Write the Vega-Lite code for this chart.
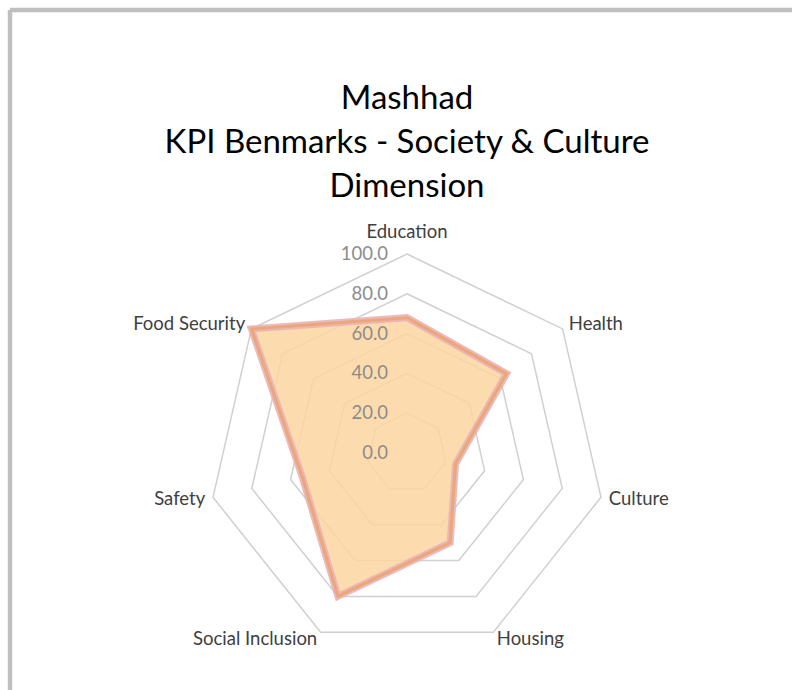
{
  "$schema": "https://vega.github.io/schema/vega-lite/v6.json",
  "width": 782,
  "height": 680,
  "autosize": {"type": "none"},
  "padding": {"left": 10, "top": 10, "right": 0, "bottom": 0},
  "background": "white",
  "config": {"view": {"stroke": null}, "font": "Lato"},
  "title": {
    "text": ["Mashhad", "KPI Benmarks - Society & Culture", "Dimension"],
    "font": "Lato",
    "fontSize": 33,
    "fontWeight": "normal",
    "color": "#000000",
    "lineHeight": 44,
    "anchor": "middle",
    "baseline": "top",
    "offset": -196,
    "dx": 6
  },
  "datasets": {
    "kpi": [
      {"dimension": "Education", "order": 0, "score": 68},
      {"dimension": "Health", "order": 1, "score": 64},
      {"dimension": "Culture", "order": 2, "score": 25},
      {"dimension": "Housing", "order": 3, "score": 50},
      {"dimension": "Social Inclusion", "order": 4, "score": 80},
      {"dimension": "Safety", "order": 5, "score": 54},
      {"dimension": "Food Security", "order": 6, "score": 100}
    ],
    "levels": [
      {"level": 0, "spokes": [0, 1, 2, 3, 4, 5, 6]},
      {"level": 20, "spokes": [0, 1, 2, 3, 4, 5, 6]},
      {"level": 40, "spokes": [0, 1, 2, 3, 4, 5, 6]},
      {"level": 60, "spokes": [0, 1, 2, 3, 4, 5, 6]},
      {"level": 80, "spokes": [0, 1, 2, 3, 4, 5, 6]},
      {"level": 100, "spokes": [0, 1, 2, 3, 4, 5, 6]}
    ],
    "frame": [{"side": "left"}, {"side": "top"}]
  },
  "layer": [
    {
      "data": {"name": "frame"},
      "transform": [{"filter": "datum.side == 'left'"}],
      "mark": {"type": "rule", "stroke": "#bfbfbf", "strokeWidth": 4.5},
      "encoding": {
        "x": {"datum": -199.5, "type": "quantitative", "scale": {"domain": [-199.5, 193.47], "nice": false, "zero": false}, "axis": null}
      }
    },
    {
      "data": {"name": "frame"},
      "transform": [{"filter": "datum.side == 'top'"}],
      "mark": {"type": "rule", "stroke": "#bfbfbf", "strokeWidth": 4.5},
      "encoding": {
        "y": {"datum": 222.61, "type": "quantitative", "scale": {"domain": [-119.1, 222.61], "nice": false, "zero": false}, "axis": null}
      }
    },
    {
      "data": {"name": "levels"},
      "transform": [
        {"filter": "datum.level > 0"},
        {"flatten": ["spokes"], "as": ["spoke"]},
        {"calculate": "datum.spoke * 2 * PI / 7", "as": "theta"},
        {"calculate": "datum.level * sin(datum.theta)", "as": "px"},
        {"calculate": "datum.level * cos(datum.theta)", "as": "py"}
      ],
      "mark": {"type": "line", "interpolate": "linear-closed", "stroke": "#d0d0d0", "strokeWidth": 1.5},
      "encoding": {
        "x": {"field": "px", "type": "quantitative", "scale": {"domain": [-199.5, 193.47], "nice": false, "zero": false}, "axis": null},
        "y": {"field": "py", "type": "quantitative", "scale": {"domain": [-119.1, 222.61], "nice": false, "zero": false}, "axis": null},
        "detail": {"field": "level", "type": "nominal"},
        "order": {"field": "spoke", "type": "quantitative"}
      }
    },
    {
      "data": {"name": "kpi"},
      "transform": [
        {"calculate": "datum.order * 2 * PI / 7", "as": "theta"},
        {"calculate": "datum.score * sin(datum.theta)", "as": "px"},
        {"calculate": "datum.score * cos(datum.theta)", "as": "py"}
      ],
      "mark": {"type": "line", "interpolate": "linear-closed", "fill": "#fcd6a0", "fillOpacity": 0.85, "stroke": "#e8b3b5", "strokeWidth": 7, "strokeOpacity": 0.9, "strokeJoin": "miter"},
      "encoding": {
        "x": {"field": "px", "type": "quantitative", "scale": {"domain": [-199.5, 193.47], "nice": false, "zero": false}, "axis": null},
        "y": {"field": "py", "type": "quantitative", "scale": {"domain": [-119.1, 222.61], "nice": false, "zero": false}, "axis": null},
        "order": {"field": "order", "type": "quantitative"}
      }
    },
    {
      "data": {"name": "kpi"},
      "transform": [
        {"calculate": "datum.order * 2 * PI / 7", "as": "theta"},
        {"calculate": "datum.score * sin(datum.theta)", "as": "px"},
        {"calculate": "datum.score * cos(datum.theta)", "as": "py"}
      ],
      "mark": {"type": "line", "interpolate": "linear-closed", "stroke": "#eda679", "strokeWidth": 3, "strokeJoin": "miter"},
      "encoding": {
        "x": {"field": "px", "type": "quantitative", "scale": {"domain": [-199.5, 193.47], "nice": false, "zero": false}, "axis": null},
        "y": {"field": "py", "type": "quantitative", "scale": {"domain": [-119.1, 222.61], "nice": false, "zero": false}, "axis": null},
        "order": {"field": "order", "type": "quantitative"}
      }
    },
    {
      "data": {"name": "levels"},
      "mark": {"type": "text", "align": "right", "baseline": "middle", "dx": -19, "fontSize": 18.5, "font": "Lato", "color": "#8c8c8c"},
      "encoding": {
        "x": {"datum": 0, "type": "quantitative", "scale": {"domain": [-199.5, 193.47], "nice": false, "zero": false}, "axis": null},
        "y": {"field": "level", "type": "quantitative", "scale": {"domain": [-119.1, 222.61], "nice": false, "zero": false}, "axis": null},
        "text": {"field": "level", "type": "quantitative", "format": ".1f"}
      }
    },
    {
      "data": {"name": "kpi"},
      "transform": [
        {"filter": "datum.order == 0"},
        {"calculate": "datum.order * 2 * PI / 7", "as": "theta"},
        {"calculate": "104 * sin(datum.theta)", "as": "lx"},
        {"calculate": "104 * cos(datum.theta)", "as": "ly"}
      ],
      "mark": {"type": "text", "align": "center", "baseline": "middle", "dy": -14, "fontSize": 18.5, "font": "Lato", "color": "#404040"},
      "encoding": {
        "x": {"field": "lx", "type": "quantitative", "scale": {"domain": [-199.5, 193.47], "nice": false, "zero": false}, "axis": null},
        "y": {"field": "ly", "type": "quantitative", "scale": {"domain": [-119.1, 222.61], "nice": false, "zero": false}, "axis": null},
        "text": {"field": "dimension", "type": "nominal"}
      }
    },
    {
      "data": {"name": "kpi"},
      "transform": [
        {"filter": "datum.order >= 1 && datum.order <= 3"},
        {"calculate": "datum.order * 2 * PI / 7", "as": "theta"},
        {"calculate": "104 * sin(datum.theta)", "as": "lx"},
        {"calculate": "104 * cos(datum.theta)", "as": "ly"}
      ],
      "mark": {"type": "text", "align": "left", "baseline": "middle", "fontSize": 18.5, "font": "Lato", "color": "#404040"},
      "encoding": {
        "x": {"field": "lx", "type": "quantitative", "scale": {"domain": [-199.5, 193.47], "nice": false, "zero": false}, "axis": null},
        "y": {"field": "ly", "type": "quantitative", "scale": {"domain": [-119.1, 222.61], "nice": false, "zero": false}, "axis": null},
        "text": {"field": "dimension", "type": "nominal"}
      }
    },
    {
      "data": {"name": "kpi"},
      "transform": [
        {"filter": "datum.order >= 4"},
        {"calculate": "datum.order * 2 * PI / 7", "as": "theta"},
        {"calculate": "104 * sin(datum.theta)", "as": "lx"},
        {"calculate": "104 * cos(datum.theta)", "as": "ly"}
      ],
      "mark": {"type": "text", "align": "right", "baseline": "middle", "fontSize": 18.5, "font": "Lato", "color": "#404040"},
      "encoding": {
        "x": {"field": "lx", "type": "quantitative", "scale": {"domain": [-199.5, 193.47], "nice": false, "zero": false}, "axis": null},
        "y": {"field": "ly", "type": "quantitative", "scale": {"domain": [-119.1, 222.61], "nice": false, "zero": false}, "axis": null},
        "text": {"field": "dimension", "type": "nominal"}
      }
    }
  ]
}
